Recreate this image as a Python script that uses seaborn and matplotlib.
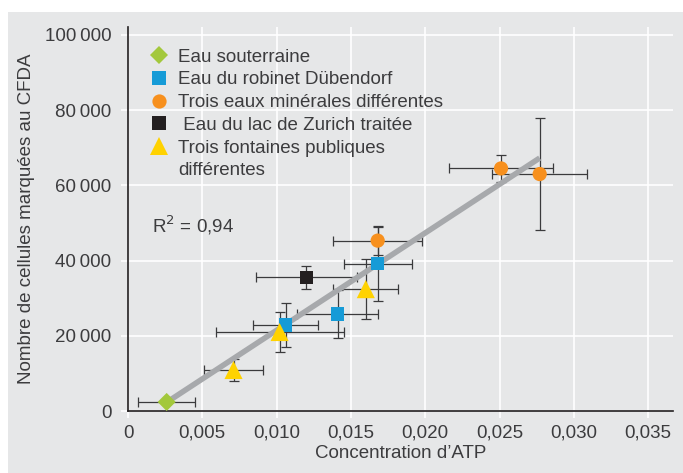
import numpy as np
import pandas as pd
import seaborn as sns
import matplotlib.pyplot as plt
from matplotlib.lines import Line2D
from matplotlib.patches import Rectangle
from matplotlib.ticker import FuncFormatter

# données
groups = ["Eau souterraine", "Eau du robinet Dübendorf", "Trois eaux minérales différentes",
          " Eau du lac de Zurich traitée", "Trois fontaines publiques"]
group = [groups[0],
         groups[1], groups[1], groups[1],
         groups[2], groups[2], groups[2],
         groups[3],
         groups[4], groups[4], groups[4]]
atp = [0.0026,
       0.0106, 0.0141, 0.0168,
       0.0168, 0.0251, 0.0277,
       0.0120,
       0.0071, 0.0102, 0.0160]
atp_err = [0.0019,
           0.0022, 0.00275, 0.0023,
           0.0030, 0.0035, 0.0032,
           0.0034,
           0.0020, 0.0043, 0.0022]
cells = [2400,
         22900, 25800, 39200,
         45300, 64500, 63000,
         35500,
         10900, 21000, 32400]
cells_err = [0,
             5800, 6500, 9900,
             3700, 3600, 15000,
             3000,
             3000, 5300, 8000]
x_ticks = [0, 0.005, 0.010, 0.015, 0.020, 0.025, 0.030, 0.035]
y_ticks = [0, 20000, 40000, 60000, 80000, 100000]

df = pd.DataFrame({"groupe": group, "atp": atp, "atp_err": atp_err,
                   "cells": cells, "cells_err": cells_err})

bg = "#e6e7e8"
txt = "#3c3c3e"
fs = 13.5
colors = {groups[0]: "#a3c83c", groups[1]: "#169bd7", groups[2]: "#f7901e",
          groups[3]: "#231f20", groups[4]: "#ffd200"}
markers = {groups[0]: "D", groups[1]: "s", groups[2]: "o", groups[3]: "s", groups[4]: "^"}
sizes = {groups[0]: 85, groups[1]: 95, groups[2]: 105, groups[3]: 95, groups[4]: 170}

sns.set_style("darkgrid", {"axes.facecolor": bg, "grid.color": "white"})
plt.rcParams['font.family'] = ['Liberation Sans', 'DejaVu Sans']
plt.rcParams['font.size'] = fs
plt.rcParams['text.color'] = txt

fig = plt.figure(figsize=(6.83, 4.73), dpi=100, facecolor="white")
fig.patches.append(Rectangle((8 / 683, 0), 1, (473 - 12) / 473, transform=fig.transFigure,
                             facecolor=bg, edgecolor="none", zorder=-10))
ax = fig.add_axes([128 / 683, (473 - 411) / 473, 545 / 683, 384 / 473])

# droite de régression
sns.regplot(data=df, x="atp", y="cells", scatter=False, ci=None, truncate=True, ax=ax,
            line_kws={"color": "#a7a9ac", "lw": 4, "zorder": 3, "solid_capstyle": "butt"})

ax.errorbar(df["atp"], df["cells"], xerr=df["atp_err"], yerr=df["cells_err"], fmt="none",
            ecolor="#3a3a3c", elinewidth=0.9, capsize=3.5, capthick=0.9, zorder=2)

sns.scatterplot(data=df, x="atp", y="cells", hue="groupe", style="groupe", size="groupe",
                palette=colors, markers=markers, sizes=sizes, linewidth=0,
                legend=False, ax=ax, zorder=4)

ax.set_xlim(0, 0.03667)
ax.set_ylim(0, 102100)
ax.set_xticks(x_ticks)
ax.set_yticks(y_ticks)
ax.xaxis.set_major_formatter(FuncFormatter(lambda v, p: "0" if v == 0 else f"{v:.3f}".replace(".", ",")))
ax.yaxis.set_major_formatter(FuncFormatter(lambda v, p: f"{int(v):,}".replace(",", "\u2009")))
ax.grid(True, color="white", lw=1.2)
ax.tick_params(axis="both", which="major", colors="white", length=5, width=1.2,
               labelcolor=txt, labelsize=fs, left=True, bottom=True)
ax.tick_params(axis="y", pad=7)
ax.tick_params(axis="x", pad=5)
for s in ["top", "right"]:
    ax.spines[s].set_visible(False)
for s in ["left", "bottom"]:
    ax.spines[s].set_visible(True)
    ax.spines[s].set_color("#231f20")
    ax.spines[s].set_linewidth(1.2)

ax.set_xlabel("Concentration d’ATP", fontsize=fs, color=txt, labelpad=2)
ax.set_ylabel("Nombre de cellules marquées au CFDA", fontsize=fs, color=txt, labelpad=7)

ax.text(0.0016, 49500, "R$^2$ = 0,94", fontsize=fs, color=txt, va="center")

handles = [Line2D([], [], linestyle="none", marker=markers[g], markersize=np.sqrt(sizes[g]),
                  markerfacecolor=colors[g], markeredgewidth=0) for g in groups]
handles.append(Line2D([], [], linestyle="none"))
labels = groups + ["différentes"]
ax.legend(handles, labels, loc="upper left", bbox_to_anchor=(0.04, 0.944), frameon=False,
          borderpad=0, borderaxespad=0, handlelength=1.0, handletextpad=0.5,
          labelspacing=0.3, fontsize=fs, labelcolor=txt)

plt.savefig("out.png", dpi=100, facecolor="white")
